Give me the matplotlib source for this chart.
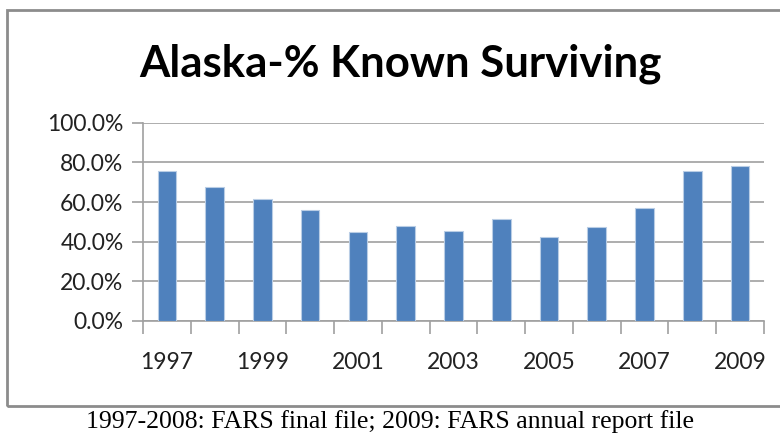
import matplotlib
matplotlib.use("Agg")
import matplotlib.pyplot as plt
from matplotlib.patches import Rectangle
from matplotlib.ticker import FuncFormatter

years = list(range(1997, 2010))
pct_surviving = [75.8, 67.4, 61.5, 55.8, 44.7, 48.1, 45.4, 51.3, 42.2, 47.3, 57.1, 75.8, 78.3]
year_labels = [str(y) for y in years[::2]]

grid_col = "#a0a0a0"
bar_col = "#4f81bd"

fig = plt.figure(figsize=(7.8, 4.34), dpi=100)
ax = fig.add_axes([0.1833, 0.2604, 0.7962, 0.4569])

x = list(range(len(years)))
ax.bar(x, pct_surviving, width=0.39, color=bar_col, edgecolor="#b9cde5", linewidth=0.8, zorder=3)

ax.set_xlim(-0.5, len(years) - 0.5)
ax.set_ylim(0, 100)
ax.set_yticks(range(0, 101, 20))
ax.yaxis.set_major_formatter(FuncFormatter(lambda v, p: "{:.1f}%".format(v)))
ax.grid(axis="y", color=grid_col, linewidth=1.2, zorder=0)

# tick marks sit between categories, labels every other year
ax.set_xticks([i - 0.5 for i in range(len(years) + 1)])
ax.set_xticklabels([])
ax.set_xticks(x[::2], minor=True)
ax.set_xticklabels(year_labels, minor=True)
ax.tick_params(axis="x", which="major", length=9, width=1.2, color=grid_col, direction="out")
ax.tick_params(axis="x", which="minor", length=0, pad=22, labelsize=16.5, labelcolor="#222222")
ax.tick_params(axis="y", length=8, width=1.2, color=grid_col, labelsize=16.5, labelcolor="#222222", pad=6)
for lab in ax.get_xticklabels(minor=True) + ax.get_yticklabels():
    lab.set_family("Lato")

for s in ["top", "right"]:
    ax.spines[s].set_visible(False)
for s in ["left", "bottom"]:
    ax.spines[s].set_color(grid_col)
    ax.spines[s].set_linewidth(1.2)

fig.patches.append(Rectangle((7 / 780, 0.0645), 1.0, 0.9125, transform=fig.transFigure,
                             fill=False, edgecolor="#8c8c8c", linewidth=2))

fig.text(0.514, 0.852, "Alaska-% Known Surviving", ha="center", va="center",
         fontsize=31.5, fontweight="bold", family="Lato", color="black")
fig.text(0.5, 0.028, "1997-2008: FARS final file; 2009: FARS annual report file",
         ha="center", va="center", fontsize=18.5, family="Liberation Serif", color="black")

fig.savefig("out.png", dpi=100)
